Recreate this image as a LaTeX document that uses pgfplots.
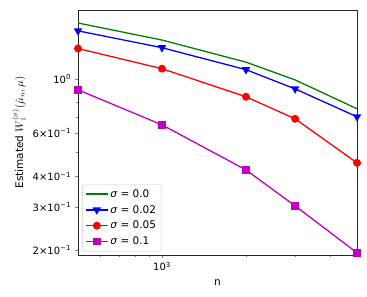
\documentclass[border=0pt]{standalone}
\usepackage{fontspec}
\setmainfont{DejaVu Sans}
\usepackage{pgfplots}
\pgfplotsset{compat=1.18}
\definecolor{mplgreen}{rgb}{0,0.5,0}
\definecolor{mplmag}{rgb}{0.75,0,0.75}
\begin{document}
\begin{tikzpicture}
\begin{axis}[
  scale only axis,
  width=279pt, height=245pt,
  xmode=log, ymode=log,
  xmin=500, xmax=5000,
  ymin=0.191, ymax=1.91,
  xtick={1000}, xticklabels={10\textsuperscript{3}},
  minor xtick={600,700,800,900,2000,3000,4000,5000},
  ytick={0.2,0.3,0.4,0.6,1},
  yticklabels={2×10\textsuperscript{−1},3×10\textsuperscript{−1},4×10\textsuperscript{−1},6×10\textsuperscript{−1},10\textsuperscript{0}},
  minor ytick={0.5,0.7,0.8,0.9},
  tick align=outside,
  tick pos=left,
  major tick length=3.5pt, minor tick length=2pt,
  tick label style={font=\fontsize{10}{11}\selectfont},
  xlabel={n}, ylabel={Estimated $W_1^{(\sigma)}(\hat{\mu}_n,\mu)$},
  label style={font=\fontsize{10.5}{12}\selectfont},
  xlabel style={yshift=-2pt},
  legend pos=south west,
  legend style={draw=gray!40, rounded corners=2pt, font=\fontsize{10.5}{12}\selectfont, row sep=2.5pt, at={(0.015,0.015)}, inner sep=3pt},
  legend cell align=left,
  legend image code/.code={\draw[mark repeat=2,mark phase=2,#1] plot coordinates {(0cm,0cm) (0.38cm,0cm) (0.76cm,0cm)};},
  axis line style={black!85},
]
\addplot[mplgreen, line width=1.3pt, no markers] coordinates {(500,1.69) (1000,1.44) (2000,1.17) (3000,0.99) (5000,0.755)};
\addlegendentry{\textit{σ} = 0.0}
\addplot[blue, line width=1.3pt, mark=triangle*, mark size=3.6pt, mark options={rotate=180}] coordinates {(500,1.57) (1000,1.34) (2000,1.09) (3000,0.91) (5000,0.70)};
\addlegendentry{\textit{σ} = 0.02}
\addplot[red, line width=1.3pt, mark=*, mark size=3.3pt] coordinates {(500,1.33) (1000,1.10) (2000,0.845) (3000,0.687) (5000,0.454)};
\addlegendentry{\textit{σ} = 0.05}
\addplot[mplmag, line width=1.3pt, mark=square*, mark size=3.2pt] coordinates {(500,0.902) (1000,0.649) (2000,0.425) (3000,0.303) (5000,0.195)};
\addlegendentry{\textit{σ} = 0.1}
\end{axis}
\pgfresetboundingbox
\path (current axis.south west) ++(-78pt,-42pt) rectangle ([shift={(10pt,10pt)}]current axis.north east);
\end{tikzpicture}
\end{document}
